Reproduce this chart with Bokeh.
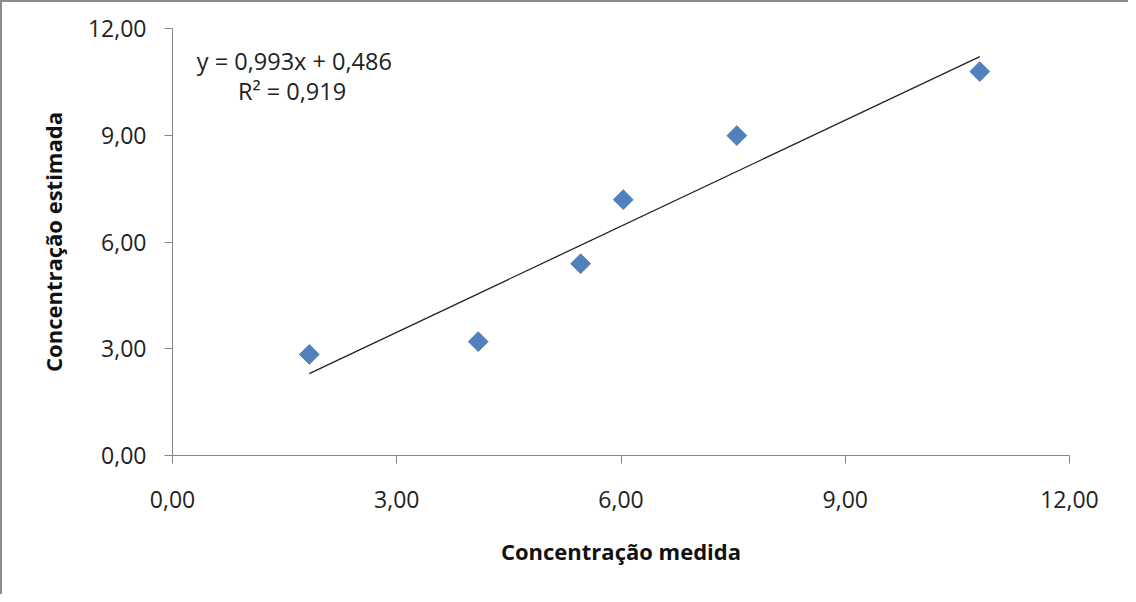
import numpy as np
from bokeh.plotting import figure
from bokeh.models import FixedTicker, Label
from bokeh.embed import file_html
from bokeh.resources import INLINE

# Data
measured = [1.83, 4.09, 5.46, 6.03, 7.55, 10.80]
estimated = [2.84, 3.20, 5.39, 7.19, 8.99, 10.79]
slope = 0.993
intercept = 0.486
tick_values = [0, 3, 6, 9, 12]
tick_labels = ["0,00", "3,00", "6,00", "9,00", "12,00"]
eq_text = "y = 0,993x + 0,486"
r2_text = "R² = 0,919"
x_title = "Concentração medida"
y_title = "Concentração estimada"

FONT = "Open Sans"
AXIS_COLOR = "#868686"

p = figure(width=1128, height=594, output_backend="svg", toolbar_location=None,
           x_range=(0, 12), y_range=(0, 12),
           min_border_left=170, min_border_right=61, min_border_top=26, min_border_bottom=141)
p.styles = {"border-left": "2px solid #8c8c8c", "border-top": "2px solid #8c8c8c"}
p.outline_line_color = None
p.grid.visible = False
p.background_fill_color = "white"
p.border_fill_color = "white"

for ax in (p.xaxis[0], p.yaxis[0]):
    ax.ticker = FixedTicker(ticks=tick_values)
    ax.major_label_overrides = {v: l for v, l in zip(tick_values, tick_labels)}
    ax.minor_tick_line_color = None
    ax.axis_line_color = AXIS_COLOR
    ax.major_tick_line_color = AXIS_COLOR
    ax.major_tick_out = 8
    ax.major_tick_in = 0
    ax.major_label_text_font = FONT
    ax.major_label_text_font_size = "23px"
    ax.major_label_text_color = "#222222"
    ax.axis_label_text_font = FONT
    ax.axis_label_text_font_size = "22px"
    ax.axis_label_text_font_style = "bold"
    ax.axis_label_text_color = "#111111"

p.xaxis.axis_label = x_title
p.yaxis.axis_label = y_title
p.xaxis.major_label_standoff = 27
p.yaxis.major_label_standoff = 18
p.xaxis.axis_label_standoff = 25
p.yaxis.axis_label_standoff = 17

# trend line
xs = np.array([min(measured), max(measured)])
p.line(xs, slope * xs + intercept, line_color="#222222", line_width=1.3)

# points
p.scatter(measured, estimated, marker="square", angle=np.pi / 4, size=14,
          fill_color="#4F81BD", line_color="#4F81BD")

p.add_layout(Label(x=1.63, y=11.1, text=eq_text, text_align="center", text_baseline="middle",
                   text_font=FONT, text_font_size="23.5px", text_color="#222222"))
p.add_layout(Label(x=1.60, y=10.25, text=r2_text, text_align="center", text_baseline="middle",
                   text_font=FONT, text_font_size="23.5px", text_color="#222222"))

open("out.html", "w").write(file_html(p, INLINE))
